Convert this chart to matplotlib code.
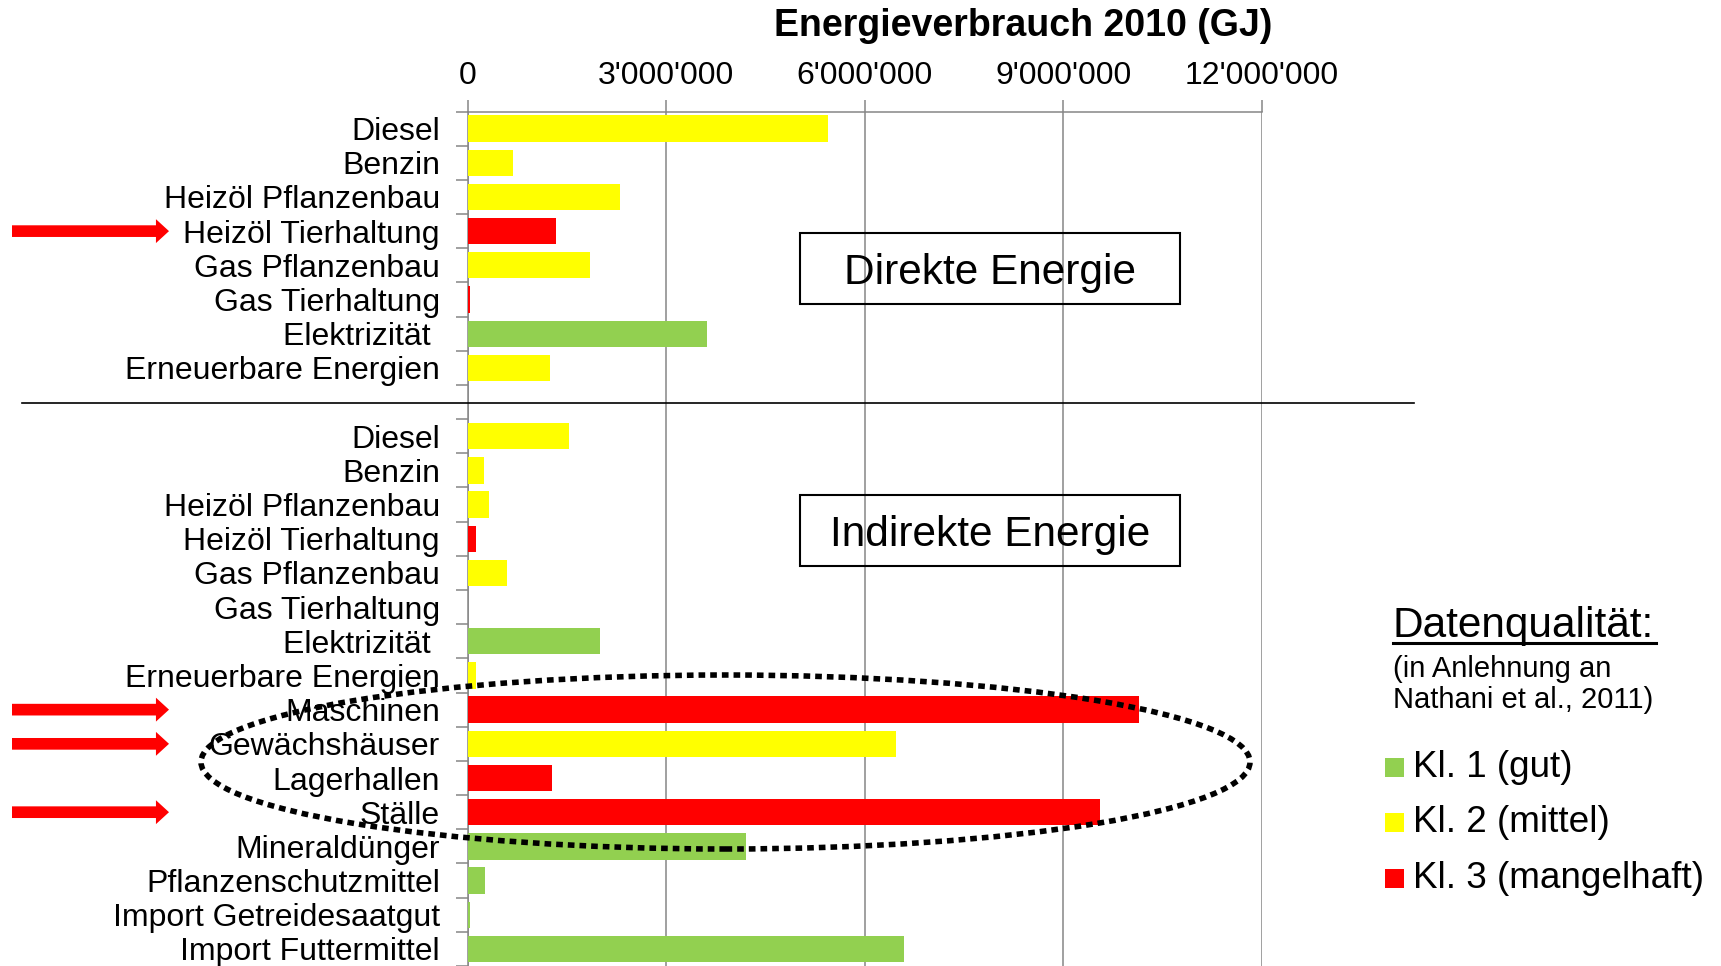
import matplotlib
matplotlib.use("Agg")
import numpy as np
import matplotlib.pyplot as plt
from matplotlib.patches import Rectangle, Ellipse
from matplotlib.lines import Line2D
from matplotlib.ticker import FuncFormatter

# --- data (GJ) ---
direct_labels = ["Diesel", "Benzin", "Heizöl Pflanzenbau", "Heizöl Tierhaltung",
                 "Gas Pflanzenbau", "Gas Tierhaltung", "Elektrizität ", "Erneuerbare Energien"]
direct_values = [5440000, 685000, 2300000, 1340000, 1850000, 40000, 3610000, 1240000]
direct_quality = [2, 2, 2, 3, 2, 3, 1, 2]

indirect_labels = ["Diesel", "Benzin", "Heizöl Pflanzenbau", "Heizöl Tierhaltung",
                   "Gas Pflanzenbau", "Gas Tierhaltung", "Elektrizität ", "Erneuerbare Energien",
                   "Maschinen", "Gewächshäuser", "Lagerhallen", "Ställe", "Mineraldünger",
                   "Pflanzenschutzmittel", "Import Getreidesaatgut", "Import Futtermittel"]
indirect_values = [1535000, 246000, 327000, 130000, 600000, 10000, 2000000, 120000,
                   10150000, 6470000, 1270000, 9550000, 4200000, 260000, 30000, 6590000]
indirect_quality = [2, 2, 2, 3, 2, 3, 1, 2, 3, 2, 3, 3, 1, 1, 1, 1]

x_ticks = [0, 3000000, 6000000, 9000000, 12000000]
quality_names = {1: "Kl. 1 (gut)", 2: "Kl. 2 (mittel)", 3: "Kl. 3 (mangelhaft)"}
quality_colors = {1: "#92D050", 2: "#FFFF00", 3: "#FF0000"}

# rows marked with a red arrow: (section, label)
arrow_rows = [("direct", "Heizöl Tierhaltung"), ("indirect", "Maschinen"),
              ("indirect", "Gewächshäuser"), ("indirect", "Ställe")]

W, H = 1721, 966
plt.rcParams['font.family'] = ['Liberation Sans', 'DejaVu Sans']
GRID = "#868686"


def fx(x):
    return x / W


def fy(y):
    return 1 - y / H


fig = plt.figure(figsize=(W / 100, H / 100), dpi=100)
ax = fig.add_axes([fx(467.7), 0, fx(1261.7) - fx(467.7), fy(111.5)])

# direct rows 0..7, blank row 8, indirect rows 9..24
pos_direct = list(range(len(direct_labels)))
pos_indirect = [len(direct_labels) + 1 + i for i in range(len(indirect_labels))]
positions = pos_direct + pos_indirect
labels = direct_labels + indirect_labels
values = direct_values + indirect_values
colors = [quality_colors[q] for q in direct_quality + indirect_quality]

ax.barh(positions, values, height=0.77, color=colors, linewidth=0, zorder=3)

n_rows = len(positions) + 1
ax.set_xlim(0, 12000000)
ax.set_ylim(n_rows - 0.51, -0.5)

ax.xaxis.tick_top()
ax.set_xticks(x_ticks)
ax.xaxis.set_major_formatter(FuncFormatter(lambda v, p: f"{v:,.0f}".replace(",", "'")))
ax.tick_params(axis='x', length=9, width=1.1, color=GRID, labelsize=23, pad=5.5)
ax.grid(axis='x', color=GRID, linewidth=1.1, zorder=1)
ax.set_axisbelow(True)

ax.set_yticks(positions, labels)
ax.tick_params(axis='y', which='major', length=0, labelsize=23, pad=20)
ax.set_yticks(np.arange(-0.5, n_rows - 0.4, 1), minor=True)
ax.tick_params(axis='y', which='minor', length=9, width=1.1, color=GRID)

for s in ['right', 'bottom']:
    ax.spines[s].set_visible(False)
for s in ['top', 'left']:
    ax.spines[s].set_color(GRID)
    ax.spines[s].set_linewidth(1.1)

fig.text(fx(1023), fy(26), "Energieverbrauch 2010 (GJ)", fontsize=27,
         fontweight='bold', ha='center', va='center')

# separator between direct and indirect energy
fig.add_artist(Line2D([fx(22), fx(1414)], [fy(402.5), fy(402.5)], color='black', lw=1.2))

# section boxes
for text, top in [("Direkte Energie", 233), ("Indirekte Energie", 495)]:
    fig.add_artist(Rectangle((fx(800), fy(top + 71)), 380 / W, 71 / H,
                             transform=fig.transFigure, fill=False, ec='black', lw=1.5))
    fig.text(fx(990), fy(top + 40), text, fontsize=30.5, ha='center', va='center')

# red arrows
for section, name in arrow_rows:
    if section == "direct":
        row = pos_direct[direct_labels.index(name)]
    else:
        row = pos_indirect[indirect_labels.index(name)]
    ax.annotate("", xy=(169, row), xytext=(12, row),
                xycoords=('figure pixels', 'data'), textcoords=('figure pixels', 'data'),
                arrowprops=dict(arrowstyle='simple,head_length=0.47,head_width=0.86,tail_width=0.42',
                                color='#FF0000', lw=0, shrinkA=0, shrinkB=0, mutation_scale=20),
                annotation_clip=False)

# dotted ellipse around buildings/machines
fig.add_artist(Ellipse((fx(725.5), fy(762)), 1049 / W, 174 / H, transform=fig.transFigure,
                       fill=False, ec='black', lw=4, ls=(0, (1.2, 0.9)), zorder=10))

# legend block
fig.text(fx(1393), fy(637), "Datenqualität:", fontsize=30.5, va='baseline')
fig.add_artist(Line2D([fx(1393), fx(1656)], [fy(643), fy(643)], color='black', lw=2.2))
fig.text(fx(1393), fy(677), "(in Anlehnung an", fontsize=21, va='baseline')
fig.text(fx(1393), fy(708), "Nathani et al., 2011)", fontsize=21, va='baseline')
for i, q in enumerate([1, 2, 3]):
    base = [777, 832, 888][i]
    fig.add_artist(Rectangle((fx(1385), fy(base)), 19 / W, 19 / H, transform=fig.transFigure,
                             color=quality_colors[q], lw=0))
    fig.text(fx(1413), fy(base), quality_names[q], fontsize=26.6, va='baseline')

fig.savefig("out.png", dpi=100)
